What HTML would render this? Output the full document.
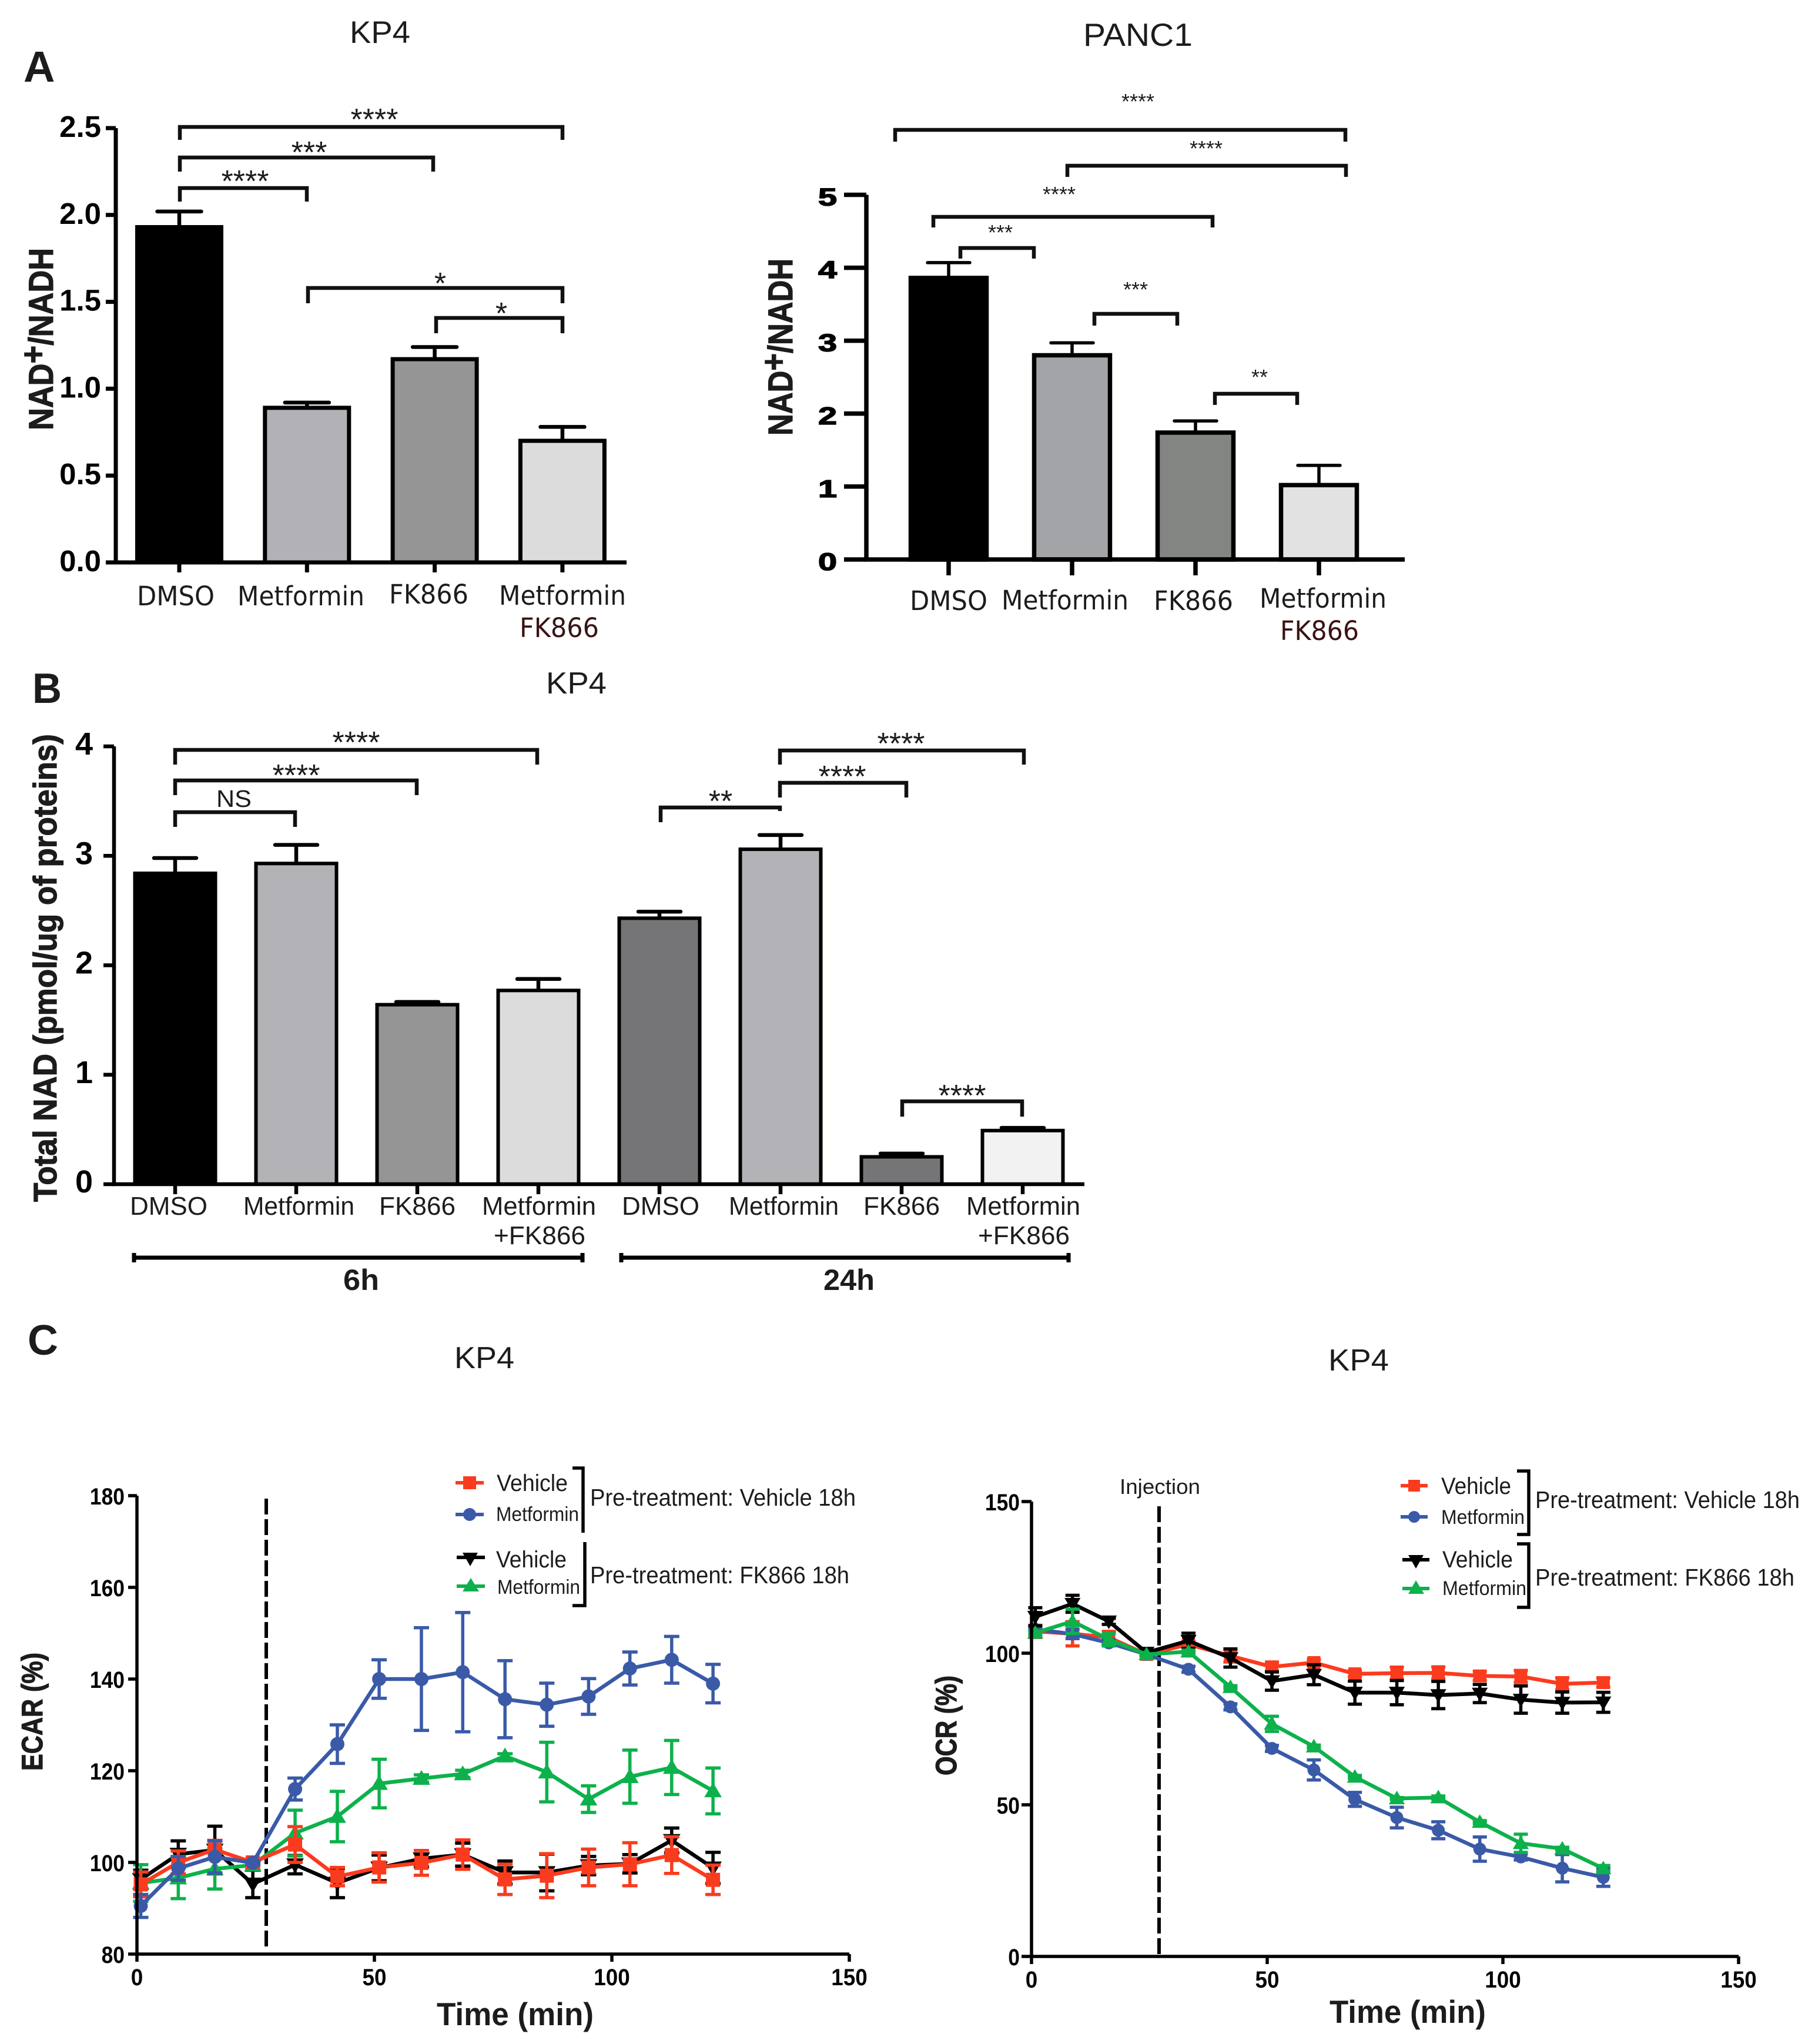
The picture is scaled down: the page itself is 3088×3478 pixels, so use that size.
<!DOCTYPE html>
<html lang="en">
<head>
<meta charset="utf-8">
<title>NAD and metabolic flux figure</title>
<style>
html,body{margin:0;padding:0;background:#fff;}
svg{display:block;}
text{font-family:"Liberation Sans",Arial,sans-serif;fill:#1c1c1c;}
.dv{font-family:"DejaVu Sans","Liberation Sans",sans-serif;}
.b{font-weight:bold;}
.hv{stroke:#1c1c1c;stroke-width:1.2;}
.br{fill:none;stroke:#111;stroke-width:6.5;}
.lk{fill:none;stroke:#000;stroke-width:5.5;}
</style>
</head>
<body>
<svg id="figure" xmlns="http://www.w3.org/2000/svg" width="3088" height="3478" viewBox="0 0 3088 3478">
<rect x="0" y="0" width="3088" height="3478" fill="#fff"/>

<!-- Panel letters and titles -->
<text class="b" x="40" y="139" font-size="74">A</text>
<text class="b" x="55" y="1196" font-size="72" textLength="50" lengthAdjust="spacingAndGlyphs">B</text>
<text class="b" x="47" y="2305" font-size="72">C</text>
<text x="595" y="73" font-size="53" textLength="103" lengthAdjust="spacingAndGlyphs">KP4</text>
<text x="1843" y="78" font-size="55" textLength="186" lengthAdjust="spacingAndGlyphs">PANC1</text>
<text x="929" y="1180" font-size="52" textLength="103" lengthAdjust="spacingAndGlyphs">KP4</text>
<text x="773" y="2328" font-size="52" textLength="102" lengthAdjust="spacingAndGlyphs">KP4</text>
<text x="2260" y="2332" font-size="52" textLength="103" lengthAdjust="spacingAndGlyphs">KP4</text>

<!-- Y axis titles -->
<text class="b hv" transform="translate(90,732) rotate(-90)" font-size="58" textLength="310" lengthAdjust="spacingAndGlyphs">NAD<tspan dy="-14">+</tspan><tspan dy="14">/NADH</tspan></text>
<text class="b hv" transform="translate(1348,741) rotate(-90)" font-size="58" textLength="301" lengthAdjust="spacingAndGlyphs">NAD<tspan dy="-12">+</tspan><tspan dy="12">/NADH</tspan></text>
<text class="b hv" transform="translate(96,2045) rotate(-90)" font-size="56" textLength="796" lengthAdjust="spacingAndGlyphs">Total NAD (pmol/ug of proteins)</text>
<text class="b hv" transform="translate(72,3013) rotate(-90)" font-size="50" textLength="201" lengthAdjust="spacingAndGlyphs">ECAR (%)</text>
<text class="b hv" transform="translate(1627,3021) rotate(-90)" font-size="50" textLength="170" lengthAdjust="spacingAndGlyphs">OCR (%)</text>

<!-- X axis titles -->
<text class="b" x="743" y="3446" font-size="55" textLength="267" lengthAdjust="spacingAndGlyphs">Time (min)</text>
<text class="b" x="2262" y="3442" font-size="55" textLength="266" lengthAdjust="spacingAndGlyphs">Time (min)</text>

<!-- KP4 ratio category labels -->
<text class="dv" x="233" y="1030" font-size="45" textLength="132" lengthAdjust="spacingAndGlyphs">DMSO</text>
<text class="dv" x="404" y="1030" font-size="45" textLength="216" lengthAdjust="spacingAndGlyphs">Metformin</text>
<text class="dv" x="662" y="1027" font-size="45" textLength="135" lengthAdjust="spacingAndGlyphs">FK866</text>
<text class="dv" x="849" y="1029" font-size="45" textLength="216" lengthAdjust="spacingAndGlyphs">Metformin</text>
<text class="dv" x="884" y="1084" font-size="45" textLength="135" lengthAdjust="spacingAndGlyphs" style="fill:#3a1212">FK866</text>

<!-- PANC1 category labels -->
<text class="dv" x="1548" y="1038" font-size="45" textLength="132" lengthAdjust="spacingAndGlyphs">DMSO</text>
<text class="dv" x="1704" y="1037" font-size="45" textLength="216" lengthAdjust="spacingAndGlyphs">Metformin</text>
<text class="dv" x="1963" y="1038" font-size="45" textLength="135" lengthAdjust="spacingAndGlyphs">FK866</text>
<text class="dv" x="2143" y="1034" font-size="45" textLength="216" lengthAdjust="spacingAndGlyphs">Metformin</text>
<text class="dv" x="2178" y="1089" font-size="45" textLength="134" lengthAdjust="spacingAndGlyphs" style="fill:#3a1212">FK866</text>

<!-- Total NAD category labels -->
<text x="221" y="2067" font-size="44" textLength="132" lengthAdjust="spacingAndGlyphs">DMSO</text>
<text x="414" y="2067" font-size="44" textLength="189" lengthAdjust="spacingAndGlyphs">Metformin</text>
<text x="645" y="2067" font-size="44" textLength="130" lengthAdjust="spacingAndGlyphs">FK866</text>
<text x="820" y="2067" font-size="44" textLength="194" lengthAdjust="spacingAndGlyphs">Metformin</text>
<text x="840" y="2117" font-size="44" textLength="156" lengthAdjust="spacingAndGlyphs">+FK866</text>
<text x="1058" y="2067" font-size="44" textLength="132" lengthAdjust="spacingAndGlyphs">DMSO</text>
<text x="1240" y="2067" font-size="44" textLength="187" lengthAdjust="spacingAndGlyphs">Metformin</text>
<text x="1469" y="2067" font-size="44" textLength="130" lengthAdjust="spacingAndGlyphs">FK866</text>
<text x="1644" y="2067" font-size="44" textLength="194" lengthAdjust="spacingAndGlyphs">Metformin</text>
<text x="1664" y="2117" font-size="44" textLength="156" lengthAdjust="spacingAndGlyphs">+FK866</text>

<!-- Time group rulers -->
<path d="M228 2140H991M228 2132V2148M991 2132V2148" fill="none" stroke="#000" stroke-width="7"/>
<path d="M1057 2140H1818M1057 2132V2148M1818 2132V2148" fill="none" stroke="#000" stroke-width="7"/>
<text class="b" x="584" y="2195" font-size="50" textLength="61" lengthAdjust="spacingAndGlyphs">6h</text>
<text class="b" x="1401" y="2195" font-size="50" textLength="87" lengthAdjust="spacingAndGlyphs">24h</text>

<!-- KP4 ratio significance brackets -->
<path class="br" d="M306 238V216H957V238"/>
<path class="br" d="M306 292V268H737V292"/>
<path class="br" d="M306 343V320H522V343"/>
<path class="br" d="M524 516V490H957V516"/>
<path class="br" d="M742 567V541H957V567"/>
<text x="637" y="221" font-size="52" text-anchor="middle">****</text>
<text x="526" y="277" font-size="52" text-anchor="middle">***</text>
<text x="417" y="326" font-size="52" text-anchor="middle">****</text>
<text x="749" y="500" font-size="52" text-anchor="middle">*</text>
<text x="853" y="551" font-size="52" text-anchor="middle">*</text>

<!-- PANC1 significance brackets -->
<path class="br" d="M1523 241V221H2289V241"/>
<path class="br" d="M1816 301V282H2290V301"/>
<path class="br" d="M1588 387V369H2063V387"/>
<path class="br" d="M1634 440V422H1759V440"/>
<path class="br" d="M1862 554V534H2003V554"/>
<path class="br" d="M2067 689V670H2207V689"/>
<text x="1936" y="185" font-size="36" text-anchor="middle">****</text>
<text x="2052" y="265" font-size="36" text-anchor="middle">****</text>
<text x="1802" y="343" font-size="36" text-anchor="middle">****</text>
<text x="1702" y="408" font-size="36" text-anchor="middle">***</text>
<text x="1932" y="505" font-size="36" text-anchor="middle">***</text>
<text x="2143" y="654" font-size="36" text-anchor="middle">**</text>

<!-- Total NAD significance brackets -->
<path class="br" d="M298 1301V1276H914V1301"/>
<path class="br" d="M298 1353V1328H709V1353"/>
<path class="br" d="M298 1407V1382H502V1407"/>
<path class="br" d="M1327 1301V1277H1742V1301"/>
<path class="br" d="M1327 1357V1332H1542V1357"/>
<path class="br" d="M1124 1399V1374H1327V1380"/>
<path class="br" d="M1535 1900V1874H1739V1900"/>
<text x="606" y="1281" font-size="52" text-anchor="middle">****</text>
<text x="504" y="1337" font-size="52" text-anchor="middle">****</text>
<text x="1533" y="1283" font-size="52" text-anchor="middle">****</text>
<text x="1433" y="1339" font-size="52" text-anchor="middle">****</text>
<text x="1226" y="1381" font-size="52" text-anchor="middle">**</text>
<text x="1637" y="1882" font-size="52" text-anchor="middle">****</text>
<text x="368" y="1373" font-size="41" textLength="60" lengthAdjust="spacingAndGlyphs">NS</text>

<!-- ECAR legend -->
<g>
<path d="M775 2523H823" stroke="#fb3b1e" stroke-width="6"/>
<rect x="788" y="2512" width="22" height="22" fill="#fb3b1e"/>
<text x="845" y="2537" font-size="40" textLength="121" lengthAdjust="spacingAndGlyphs">Vehicle</text>
<path d="M775 2577H823" stroke="#3a5aa8" stroke-width="6"/>
<circle cx="799" cy="2577" r="11" fill="#3a5aa8"/>
<text x="844" y="2588" font-size="34" textLength="141" lengthAdjust="spacingAndGlyphs">Metformin</text>
<path d="M777 2650H825" stroke="#000" stroke-width="6"/>
<polygon points="787,2642 813,2642 800,2665" fill="#000"/>
<text x="844" y="2667" font-size="40" textLength="120" lengthAdjust="spacingAndGlyphs">Vehicle</text>
<path d="M777 2699H825" stroke="#0db14b" stroke-width="6"/>
<polygon points="787,2708 815,2708 801,2685" fill="#0db14b"/>
<text x="846" y="2712" font-size="34" textLength="141" lengthAdjust="spacingAndGlyphs">Metformin</text>
<path class="lk" d="M974 2498H992V2608"/>
<path class="lk" d="M995 2624V2732H974"/>
<text x="1004" y="2562" font-size="41" textLength="452" lengthAdjust="spacingAndGlyphs">Pre-treatment: Vehicle 18h</text>
<text x="1004" y="2694" font-size="41" textLength="441" lengthAdjust="spacingAndGlyphs">Pre-treatment: FK866 18h</text>
</g>

<!-- OCR legend -->
<g>
<path d="M2383 2528H2429" stroke="#fb3b1e" stroke-width="6"/>
<rect x="2396" y="2518" width="20" height="20" fill="#fb3b1e"/>
<text x="2452" y="2542" font-size="40" textLength="119" lengthAdjust="spacingAndGlyphs">Vehicle</text>
<path d="M2383 2581H2429" stroke="#3a5aa8" stroke-width="6"/>
<circle cx="2406" cy="2581" r="10" fill="#3a5aa8"/>
<text x="2452" y="2593" font-size="34" textLength="142" lengthAdjust="spacingAndGlyphs">Metformin</text>
<path d="M2386 2654H2432" stroke="#000" stroke-width="6"/>
<polygon points="2396,2646 2422,2646 2409,2669" fill="#000"/>
<text x="2454" y="2667" font-size="40" textLength="120" lengthAdjust="spacingAndGlyphs">Vehicle</text>
<path d="M2386 2703H2432" stroke="#0db14b" stroke-width="6"/>
<polygon points="2396,2712 2423,2712 2409,2689" fill="#0db14b"/>
<text x="2454" y="2714" font-size="34" textLength="143" lengthAdjust="spacingAndGlyphs">Metformin</text>
<path class="lk" d="M2581 2503H2601V2611H2581"/>
<path class="lk" d="M2581 2627H2601V2735H2581"/>
<text x="2612" y="2566" font-size="41" textLength="450" lengthAdjust="spacingAndGlyphs">Pre-treatment: Vehicle 18h</text>
<text x="2612" y="2698" font-size="41" textLength="441" lengthAdjust="spacingAndGlyphs">Pre-treatment: FK866 18h</text>
</g>

<!-- Injection markers -->
<path d="M453 2550V3320" stroke="#000" stroke-width="6" stroke-dasharray="27 8"/>
<path d="M1972 2563V3329" stroke="#000" stroke-width="6" stroke-dasharray="27 8"/>
<text x="1905" y="2542" font-size="36" textLength="137" lengthAdjust="spacingAndGlyphs">Injection</text>

<g id="marks"></g>
</svg>

<script>
// KP4 NAD+/NADH bar chart
const kp4Categories = ['DMSO', 'Metformin', 'FK866', 'Metformin FK866'];
const kp4Ratio = [1.93, 0.89, 1.17, 0.70];
const kp4RatioError = [0.09, 0.03, 0.07, 0.08];
const kp4Ticks = ['0.0', '0.5', '1.0', '1.5', '2.0', '2.5'];

// PANC1 NAD+/NADH bar chart
const panc1Categories = ['DMSO', 'Metformin', 'FK866', 'Metformin FK866'];
const panc1Ratio = [3.86, 2.80, 1.74, 1.02];
const panc1RatioError = [0.21, 0.17, 0.16, 0.27];
const panc1Ticks = ['0', '1', '2', '3', '4', '5'];

// KP4 total NAD bar chart
const totalCategories = ['DMSO 6h', 'Metformin 6h', 'FK866 6h', 'Metformin FK866 6h', 'DMSO 24h', 'Metformin 24h', 'FK866 24h', 'Metformin FK866 24h'];
const totalNad = [2.84, 2.93, 1.64, 1.77, 2.43, 3.06, 0.25, 0.49];
const totalNadError = [0.14, 0.17, 0.025, 0.105, 0.06, 0.13, 0.03, 0.025];
const totalTicks = ['0', '1', '2', '3', '4'];

// Seahorse time series (shared time points, minutes)
const timeMinutes = [0.8, 8.7, 16.4, 24.4, 33.3, 42.2, 51, 59.9, 68.6, 77.5, 86.3, 95.1, 103.8, 112.6, 121.3];

const ecarVehicle = [95.2, 100, 102.8, 100, 103.9, 96.9, 98.9, 99.9, 101.7, 96.3, 97.1, 98.9, 99.6, 101.6, 96.2];
const ecarVehicleError = [2.7, 2.5, 2, 0.7, 3.9, 2, 3.2, 2.7, 3.2, 3.3, 4.8, 4, 4.7, 4, 3.2];
const ecarMetformin = [90.5, 98.7, 101.2, 99.9, 116, 125.8, 140, 140, 141.5, 135.6, 134.4, 136.2, 142.3, 144.2, 139];
const ecarMetforminError = [2.5, 2.6, 3.5, 0.3, 2.4, 4.2, 4.2, 11.2, 13, 8.4, 4.7, 3.9, 3.6, 5.1, 4.2];
const ecarFkVehicle = [96.3, 101.8, 102.7, 95.3, 99.5, 95.5, 98.8, 100.8, 101.7, 97.8, 97.8, 99.3, 99.7, 104.8, 98.8];
const ecarFkVehicleError = [2, 2.9, 5.2, 3, 2, 3.2, 2.8, 1.8, 2.5, 2.5, 4, 2, 2, 2.7, 3.4];
const ecarFkMetformin = [95.5, 96.6, 98.6, 99.4, 106.4, 110, 117.2, 118.3, 119.3, 123.2, 119.7, 113.8, 118.7, 120.7, 115.6];
const ecarFkMetforminError = [4, 4.5, 4.4, 1, 5, 5.5, 5.3, 0.8, 0.8, 0.5, 6.5, 2.9, 5.8, 5.9, 5];
const ecarYTicks = ['80', '100', '120', '140', '160', '180'];
const timeTicks = ['0', '50', '100', '150'];

const ocrVehicle = [107.2, 106.4, 105.2, 99.6, 102.9, 99.1, 95.5, 96.9, 93.2, 93.4, 93.5, 92.5, 92.3, 89.9, 90.3];
const ocrVehicleError = [2, 4, 2, 0.5, 1, 2, 1.5, 1, 1, 2, 2, 1.5, 2, 2, 1.5];
const ocrMetformin = [107.9, 106.3, 103.4, 99.6, 94.7, 82.3, 68.6, 61.5, 51.8, 45.8, 41.6, 35.4, 32.8, 29.1, 26.1];
const ocrMetforminError = [0.5, 1.5, 1, 0.2, 1, 1, 1, 3.3, 2.3, 3.4, 2.8, 4, 1, 4.5, 3];
const ocrFkVehicle = [112, 116.3, 110.5, 100.2, 104.1, 98.4, 90.8, 92.9, 87, 87, 86.2, 86.7, 84.7, 83.7, 83.8];
const ocrFkVehicleError = [3, 2.8, 1, 0.8, 2.5, 3, 3, 3.3, 3.8, 4, 4.5, 3, 4.5, 3.5, 3.3];
const ocrFkMetformin = [106.7, 110.5, 104.5, 99.6, 100.5, 88.8, 76.7, 69.2, 59.2, 52.1, 52.4, 44.3, 37.3, 35.5, 29];
const ocrFkMetforminError = [0.5, 4, 2, 0.2, 0.5, 0.5, 2.5, 0.5, 0.5, 0.3, 0.5, 0.5, 3, 0.5, 1];
const ocrYTicks = ['0', '50', '100', '150'];

const SVG_NS = 'http://www.w3.org/2000/svg';
const marksLayer = document.getElementById('marks');

function add(tag, attrs, name) {
  const el = document.createElementNS(SVG_NS, tag);
  for (const key in attrs) el.setAttribute(key, attrs[key]);
  
  
  marksLayer.appendChild(el);
  return el;
}

function addText(str, attrs, name) {
  const el = add('text', attrs, name);
  el.textContent = str;
  return el;
}

function slug(s) {
  return s.toLowerCase().replace(/[^a-z0-9]+/g, '-');
}

function linear(d0, d1, r0, r1) {
  return v => r0 + (v - d0) * (r1 - r0) / (d1 - d0);
}

function drawBarChart(cfg) {
  const y = cfg.y;
  const x = i => cfg.x0 + i * cfg.step;
  const base = y(0);
  const top = y(cfg.yMax);
  cfg.values.forEach((v, i) => {
    const cx = x(i);
    const errTop = y(v + cfg.errors[i]);
    const err = add('path', {
      d: 'M' + cx + ' ' + y(v) + 'V' + errTop + 'M' + (cx - cfg.capW / 2) + ' ' + errTop + 'H' + (cx + cfg.capW / 2),
      stroke: '#000', 'stroke-width': cfg.errSw, fill: 'none'
    }, 'error-bar-' + slug(cfg.categories[i]));
    err.setAttribute('stroke-linecap', 'round');
    add('rect', {
      x: cx - cfg.barW / 2, y: y(v), width: cfg.barW, height: Math.max(0, base - y(v)),
      fill: cfg.fills[i], stroke: '#000', 'stroke-width': cfg.barSw
    }, 'bar-' + slug(cfg.categories[i]));
    add('line', {
      x1: cx, x2: cx, y1: base, y2: base + cfg.xTickLen, stroke: '#000', 'stroke-width': cfg.axisSw
    }, 'x-tick-' + slug(cfg.categories[i]));
  });
  add('path', {
    d: 'M' + cfg.axisX + ' ' + top + 'V' + base + 'H' + cfg.axisEnd,
    fill: 'none', stroke: '#000', 'stroke-width': cfg.axisSw
  }, 'axis-lines');
  cfg.ticks.forEach(t => {
    const ty = y(parseFloat(t));
    add('line', {
      x1: cfg.tickLeft, x2: cfg.axisX, y1: ty, y2: ty, stroke: '#000', 'stroke-width': cfg.axisSw
    }, 'y-tick');
    const attrs = {
      x: cfg.labelRight, y: ty + cfg.labelDy, 'font-size': cfg.labelFs, 'font-weight': 'bold', 'text-anchor': 'end'
    };
    const label = addText(t, attrs, 'y-tick-label');
    label.style.fill = '#000';
    if (cfg.labelStroke) {
      label.setAttribute('stroke', '#000');
      label.setAttribute('stroke-width', cfg.labelStroke);
    }
    if (cfg.labelW) {
      label.setAttribute('textLength', cfg.labelW * t.length);
      label.setAttribute('lengthAdjust', 'spacingAndGlyphs');
    }
  });
}

function markerAt(kind, cx, cy, size, color, name) {
  if (kind === 'square') {
    add('rect', { x: cx - size / 2, y: cy - size / 2, width: size, height: size, fill: color }, name);
  } else if (kind === 'circle') {
    add('circle', { cx: cx, cy: cy, r: size / 2, fill: color }, name);
  } else if (kind === 'down') {
    add('path', { d: 'M' + (cx - size * 0.62) + ' ' + (cy - size * 0.45) + 'H' + (cx + size * 0.62) + 'L' + cx + ' ' + (cy + size * 0.6) + 'Z', fill: color }, name);
  } else {
    add('path', { d: 'M' + (cx - size * 0.62) + ' ' + (cy + size * 0.45) + 'H' + (cx + size * 0.62) + 'L' + cx + ' ' + (cy - size * 0.6) + 'Z', fill: color }, name);
  }
}

function drawSeries(cfg, s) {
  const pts = s.values.map((v, i) => cfg.x(timeMinutes[i]) + ',' + cfg.y(v));
  s.values.forEach((v, i) => {
    const cx = cfg.x(timeMinutes[i]);
    const yHi = cfg.y(v + s.errors[i]);
    const yLo = cfg.y(v - s.errors[i]);
    const c = cfg.capW / 2;
    add('path', {
      d: 'M' + cx + ' ' + yHi + 'V' + yLo + 'M' + (cx - c) + ' ' + yHi + 'H' + (cx + c) + 'M' + (cx - c) + ' ' + yLo + 'H' + (cx + c),
      stroke: s.color, 'stroke-width': cfg.errSw, fill: 'none'
    }, 'error-bar-' + s.name);
  });
  add('polyline', {
    points: pts.join(' '), fill: 'none', stroke: s.color, 'stroke-width': cfg.lineSw, 'stroke-linejoin': 'round'
  }, 'line-' + s.name);
  s.values.forEach((v, i) => {
    markerAt(s.marker, cfg.x(timeMinutes[i]), cfg.y(v), cfg.markerSize, s.color, 'point-' + s.name);
  });
}

function drawLineChart(cfg) {
  const x0 = cfg.x(0);
  const xEnd = cfg.x(150);
  const yBase = cfg.y(cfg.yMin);
  const yTop = cfg.y(cfg.yMax);
  cfg.series.forEach(s => drawSeries(cfg, s));
  add('path', {
    d: 'M' + x0 + ' ' + yTop + 'V' + yBase + 'H' + xEnd, fill: 'none', stroke: '#000', 'stroke-width': cfg.axisSw
  }, 'axis-lines');
  cfg.yTicks.forEach(t => {
    const ty = cfg.y(parseFloat(t));
    add('line', {
      x1: cfg.tickLeft, x2: x0, y1: ty, y2: ty, stroke: '#000', 'stroke-width': cfg.axisSw
    }, 'y-tick');
    const label = addText(t, {
      x: cfg.yLabelRight - 19.7 * t.length, y: ty + 15, 'font-size': 40, 'font-weight': 'bold',
      textLength: 19.7 * t.length, lengthAdjust: 'spacingAndGlyphs'
    }, 'y-tick-label');
    label.style.fill = '#000';
  });
  timeTicks.forEach(t => {
    const tx = cfg.x(parseFloat(t));
    add('line', {
      x1: tx, x2: tx, y1: yBase, y2: yBase + 13, stroke: '#000', 'stroke-width': cfg.axisSw
    }, 'x-tick');
    const w = 20.5 * t.length;
    const label = addText(t, {
      x: tx - w / 2, y: cfg.xLabelBaseline, 'font-size': 40, 'font-weight': 'bold',
      textLength: w, lengthAdjust: 'spacingAndGlyphs'
    }, 'x-tick-label');
    label.style.fill = '#000';
  });
}

drawBarChart({
  categories: kp4Categories, values: kp4Ratio, errors: kp4RatioError, ticks: kp4Ticks,
  fills: ['#000000', '#b2b1b5', '#969596', '#dcdcdc'],
  y: linear(0, 2.5, 957, 218), yMax: 2.5,
  x0: 305, step: 217.3, barW: 143, barSw: 7, capW: 75, errSw: 6.5,
  axisX: 197, axisEnd: 1066, axisSw: 7, tickLeft: 180, xTickLen: 17,
  labelRight: 172, labelDy: 15, labelFs: 51
});

drawBarChart({
  categories: panc1Categories, values: panc1Ratio, errors: panc1RatioError, ticks: panc1Ticks,
  fills: ['#000000', '#a3a4a8', '#838583', '#e2e2e2'],
  y: linear(0, 5, 952, 331.5), yMax: 5,
  x0: 1614, step: 210, barW: 129, barSw: 7.5, capW: 72, errSw: 5.5,
  axisX: 1474, axisEnd: 2390, axisSw: 7.5, tickLeft: 1436, xTickLen: 27,
  labelRight: 1424, labelDy: 18, labelFs: 42, labelW: 32, labelStroke: 1.5
});

drawBarChart({
  categories: totalCategories, values: totalNad, errors: totalNadError, ticks: totalTicks,
  fills: ['#000000', '#b3b2b6', '#969596', '#dcdcdc', '#757577', '#b3b2b6', '#757577', '#f2f2f2'],
  y: linear(0, 4, 2015, 1270), yMax: 4,
  x0: 298, step: 206, barW: 137, barSw: 6, capW: 72, errSw: 6.5,
  axisX: 194, axisEnd: 1845, axisSw: 6.5, tickLeft: 176, xTickLen: 17,
  labelRight: 158, labelDy: 14, labelFs: 54
});

drawLineChart({
  x: linear(0, 150, 233, 1445), y: linear(80, 180, 3325, 2545), yMin: 80, yMax: 180,
  yTicks: ecarYTicks, axisSw: 5.5, tickLeft: 218, yLabelRight: 212, xLabelBaseline: 3378,
  capW: 26, errSw: 5.5, lineSw: 6.5, markerSize: 24,
  series: [
    { name: 'fk866-vehicle', color: '#000000', marker: 'down', values: ecarFkVehicle, errors: ecarFkVehicleError },
    { name: 'fk866-metformin', color: '#0db14b', marker: 'up', values: ecarFkMetformin, errors: ecarFkMetforminError },
    { name: 'vehicle', color: '#fb3b1e', marker: 'square', values: ecarVehicle, errors: ecarVehicleError },
    { name: 'metformin', color: '#3a5aa8', marker: 'circle', values: ecarMetformin, errors: ecarMetforminError }
  ]
});

drawLineChart({
  x: linear(0, 150, 1755, 2958), y: linear(0, 150, 3329, 2555), yMin: 0, yMax: 150,
  yTicks: ocrYTicks, axisSw: 5.5, tickLeft: 1738, yLabelRight: 1735, xLabelBaseline: 3382,
  capW: 24, errSw: 5.5, lineSw: 6.5, markerSize: 22,
  series: [
    { name: 'vehicle', color: '#fb3b1e', marker: 'square', values: ocrVehicle, errors: ocrVehicleError },
    { name: 'metformin', color: '#3a5aa8', marker: 'circle', values: ocrMetformin, errors: ocrMetforminError },
    { name: 'fk866-vehicle', color: '#000000', marker: 'down', values: ocrFkVehicle, errors: ocrFkVehicleError },
    { name: 'fk866-metformin', color: '#0db14b', marker: 'up', values: ocrFkMetformin, errors: ocrFkMetforminError }
  ]
});
</script>
</body>
</html>
